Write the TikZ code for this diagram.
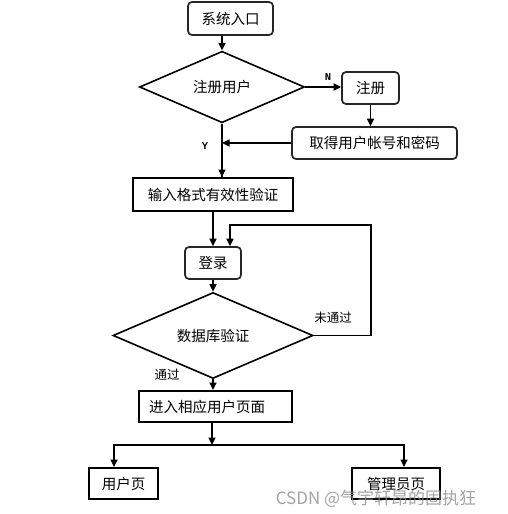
\documentclass[tikz,border=0pt]{standalone}
\usepackage{fontspec}
\setmainfont{Noto Sans CJK SC}
\newfontfamily\monof{Liberation Mono}
\usetikzlibrary{shapes.geometric,arrows.meta}
\tikzset{
  rbox/.style={draw=black!85, line width=1.7pt, rounded corners=4pt, inner sep=0pt, font=\fontsize{14.5}{16}\selectfont},
  sbox/.style={draw=black, line width=1.9pt, inner sep=0pt, font=\fontsize{14.5}{16}\selectfont},
  dia/.style={draw=black, line width=1.6pt, diamond, inner sep=0pt, font=\fontsize{14.5}{16}\selectfont},
  arr/.style={draw=black, line width=1.5pt, -{Triangle[length=7.5pt,width=7pt]}},
  ln/.style={draw=black, line width=1.5pt},
  lbl/.style={font=\fontsize{12.5}{14}\selectfont, inner sep=0pt},
  yn/.style={font=\monof\bfseries\fontsize{10.5}{12}\selectfont, inner sep=0pt}
}
\begin{document}
\begin{tikzpicture}[x=1pt,y=-1pt]
\useasboundingbox (0,0) rectangle (507,514);
\node[rbox, minimum width=85pt, minimum height=33pt] (entry) at (230.5,18.5) {系统入口};
\node[dia, minimum width=165pt, minimum height=60pt] (reg) at (222,87) {注册用户};
\node[rbox, minimum width=57pt, minimum height=32pt] (doreg) at (370.5,88) {注册};
\node[rbox, minimum width=165pt, minimum height=32pt] (getacc) at (374.5,143) {取得用户帐号和密码};
\node[sbox, minimum width=160pt, minimum height=33pt] (check) at (213,194.5) {输入格式有效性验证};
\node[rbox, minimum width=56pt, minimum height=32pt] (login) at (213,263) {登录};
\node[dia, minimum width=200pt, minimum height=61pt] (db) at (213,335.5) {数据库验证};
\node[sbox, minimum width=153pt, minimum height=31pt, text width=133pt, align=left] (enter) at (215.5,406.5) {进入相应用户页面};
\node[sbox, minimum width=69pt, minimum height=31pt] (user) at (123.5,483.5) {用户页};
\node[sbox, minimum width=88pt, minimum height=31pt] (admin) at (396,483.5) {管理员页};

\draw[arr] (entry.south -| reg.north) -- (reg.north);
\draw[arr, line width=2.4pt] (reg.east) -- (reg.east -| doreg.west);
\node[yn] (nlab) at (328,77) {N};
\draw[arr] (doreg.south) -- (doreg.south |- getacc.north);
\draw[ln] (reg.south) -- (reg.south |- check.north);
\draw[arr] (reg.south |- check.north) ++(0,-20) -- (reg.south |- check.north);
\draw[arr] (getacc.west) -- (getacc.west -| reg.south);
\node[yn] (ylab) at (205,146) {Y};
\draw[arr] (check.south) -- (check.south |- login.north);
\draw[arr] (login.south) -- (db.north);
\coordinate (lp) at (371,225);
\draw[arr] (db.east) -| (lp) -| ([xshift=17pt]login.north);
\node[lbl] (fail) at (333,318) {未通过};
\draw[arr] (db.south) -- (db.south |- enter.north);
\node[lbl] (pass) at (167,375) {通过};
\coordinate (br) at (212,445);
\draw[arr] (enter.south -| br) -- (br);
\draw[arr] (br) -| ([xshift=-9.5pt]user.north);
\draw[arr] (br) -| ([xshift=8pt]admin.north);
\node[font=\fontsize{17}{19}\selectfont, text=black!45, opacity=0.8, inner sep=0pt] (wm) at (376,499) {CSDN @气宇轩昂的固执狂};
\end{tikzpicture}
\end{document}
